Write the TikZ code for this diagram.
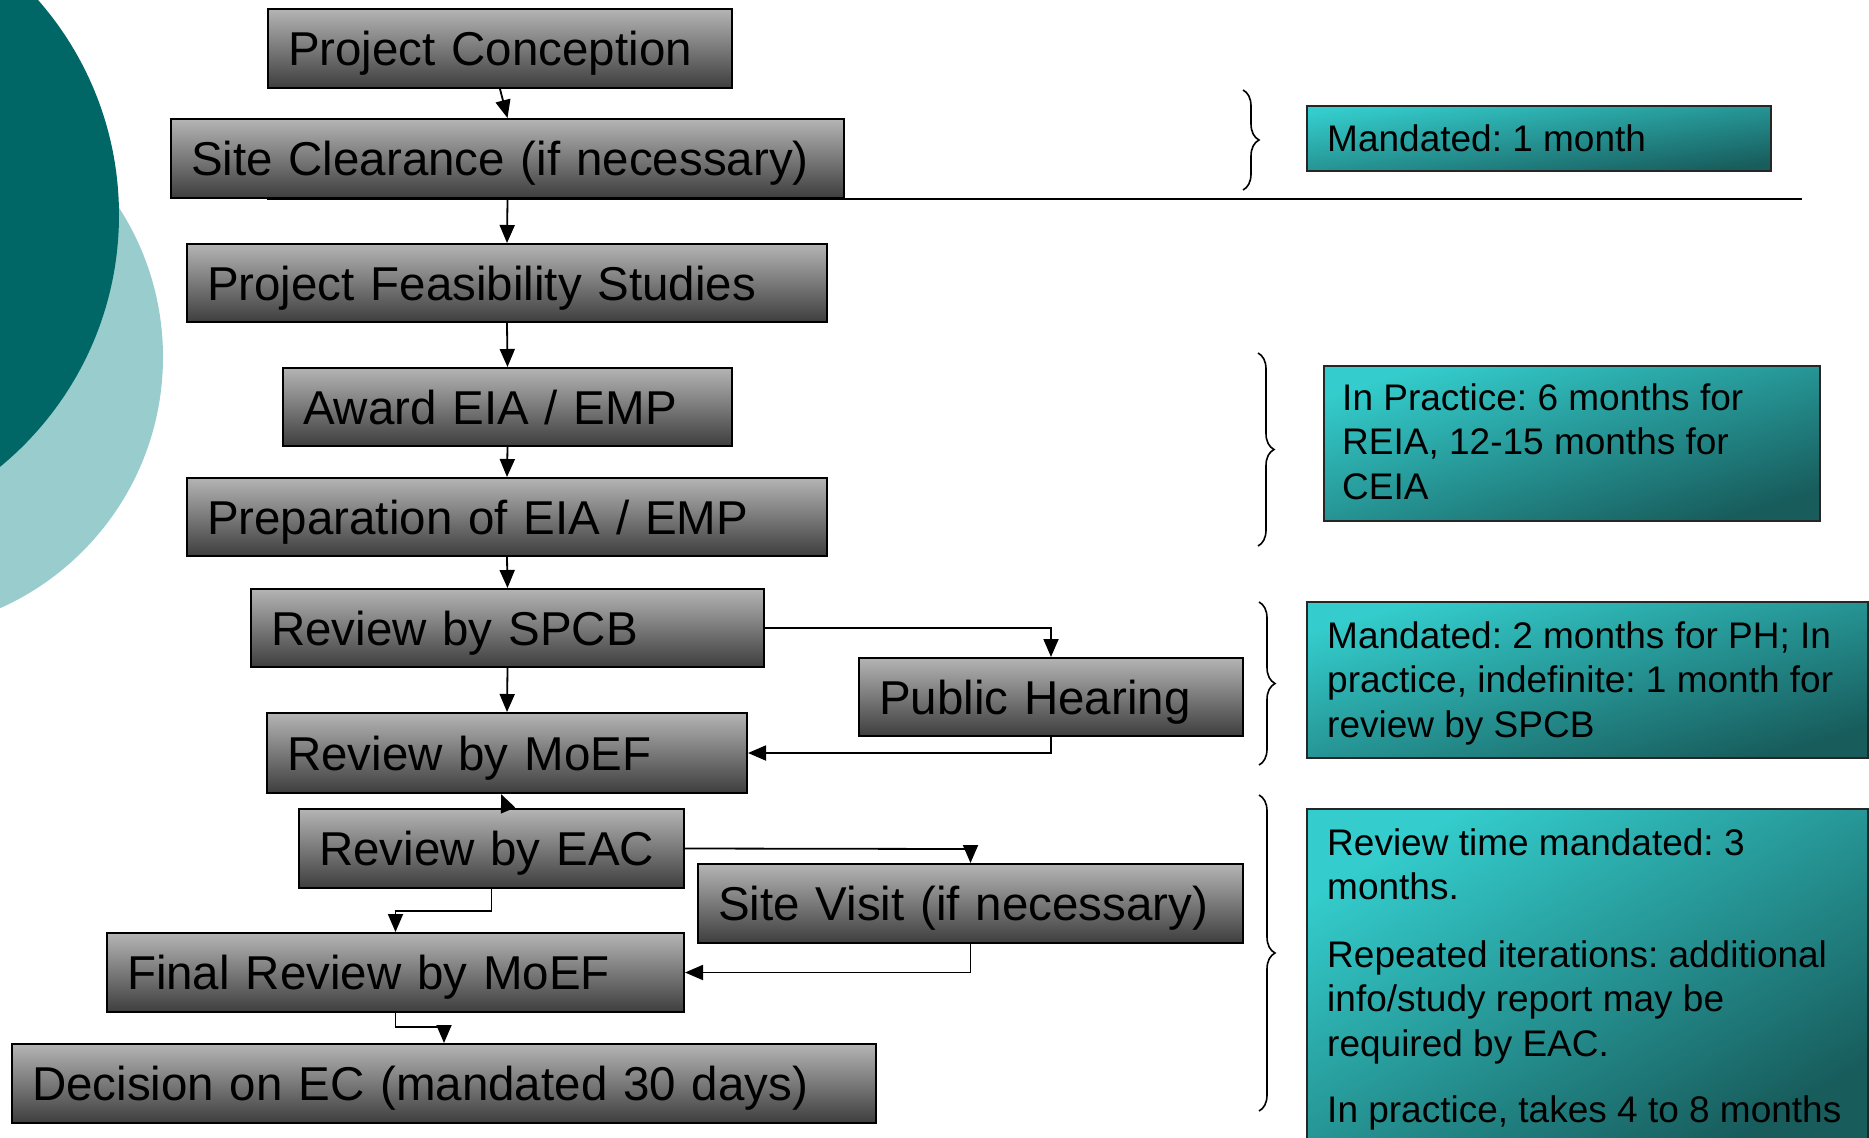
\documentclass[tikz,border=0pt]{standalone}
\usepackage{fontspec}
\setmainfont{Liberation Sans}
\usetikzlibrary{arrows.meta,decorations.pathreplacing,calc}
\definecolor{gtop}{RGB}{180,180,180}
\definecolor{gbot}{RGB}{62,62,62}
\definecolor{tealL}{RGB}{52,204,204}
\definecolor{tealD}{RGB}{24,92,92}
\definecolor{circD}{RGB}{0,102,102}
\definecolor{circL}{RGB}{153,204,204}
\frenchspacing
\begin{document}
\begin{tikzpicture}[x=1pt,y=-1pt,
  greybox/.style={draw=black, line width=2pt, top color=gtop, bottom color=gbot,
    anchor=north west, inner xsep=20pt, inner ysep=0pt, align=left,
    font=\fontsize{47.5}{56}\selectfont, text height=34pt, text depth=0pt},
  tealbox/.style={draw=black!85, line width=2pt, top color=tealL, bottom color=tealD,
    shading angle=#1, anchor=north west, inner sep=0pt},
  tealtext/.style={anchor=north west, inner sep=0pt, align=left,
    font=\fontsize{37}{44.5}\selectfont},
  arr/.style={line width=1.8pt, -{Triangle[length=18pt,width=15pt]}},
  bracedeco/.style={line width=1.6pt, decorate, decoration={brace, amplitude=16pt}}
]
\useasboundingbox (0,0) rectangle (1869,1138);
\clip (0,0) rectangle (1869,1138);
% background circles
\fill[circL] (-112,357) circle[radius=275];
\fill[circD] (-207,215) circle[radius=326];

% separator
\coordinate (sepL) at (267,199);
\coordinate (sepR) at (1802,199);
\draw[line width=2pt] (sepL) -- (sepR);

% grey process boxes
\node[greybox, text width=424pt, minimum height=79pt] (pc) at (267,8) {Project Conception};
\node[greybox, text width=633pt, minimum height=79pt] (sc) at (170,118) {Site Clearance (if necessary)};
\node[greybox, text width=600pt, minimum height=78pt] (pfs) at (186,243) {Project Feasibility Studies};
\node[greybox, text width=409pt, minimum height=78pt] (aw) at (282,367) {Award EIA / EMP};
\node[greybox, text width=600pt, minimum height=78pt] (prep) at (186,477) {Preparation of EIA / EMP};
\node[greybox, text width=473pt, minimum height=78pt] (spcb) at (250,588) {Review by SPCB};
\node[greybox, text width=344pt, minimum height=78pt] (ph) at (858,657) {Public Hearing};
\node[greybox, text width=440pt, minimum height=80pt] (moef) at (266,712) {Review by MoEF};
\node[greybox, text width=345pt, minimum height=79pt] (eac) at (298,808) {Review by EAC};
\node[greybox, text width=505pt, minimum height=79pt] (sv) at (697,863) {Site Visit (if necessary)};
\node[greybox, text width=537pt, minimum height=79pt] (fin) at (106,932) {Final Review by MoEF};
\node[greybox, text width=824pt, minimum height=79pt] (dec) at (11,1043) {Decision on EC (mandated 30 days)};

% connectors
\draw[arr] (pc.south) -- (sc.north);
\draw[arr] (sc.south) -- (pfs.north);
\draw[arr] (pfs.south) -- (aw.north);
\draw[arr] (aw.south) -- (prep.north);
\draw[arr] (prep.south) -- (spcb.north);
\draw[arr] (spcb.south) -- (moef.north);
\draw[arr] (spcb.east) -| (ph.north);
\draw[arr] (ph.south) |- (moef.east);
\draw[arr] ([xshift=15.5pt]eac.north) -- ([xshift=-6pt]moef.south);
\draw[arr] (eac.east) -- ([yshift=14pt]sv.north) -- (sv.north);
\draw[arr] (eac.south) -- ++(0,22) -| (fin.north);
\draw[arr] (sv.south) |- (fin.east);
\draw[arr] (fin.south) -- ++(0,14) -| (dec.north);

% braces
\coordinate (b1t) at (1243,90);   \coordinate (b1b) at (1243,190);
\coordinate (b2t) at (1258,353);  \coordinate (b2b) at (1258,546);
\coordinate (b3t) at (1259,602);  \coordinate (b3b) at (1259,765);
\coordinate (b4t) at (1259,795);  \coordinate (b4b) at (1259,1111);
\draw[bracedeco] (b1t) -- (b1b);
\draw[bracedeco] (b2t) -- (b2b);
\draw[bracedeco] (b3t) -- (b3b);
\draw[bracedeco] (b4t) -- (b4b);

% teal note boxes
\node[tealbox=8, minimum width=464pt, minimum height=65pt] (t1) at (1306,105) {};
\node[tealtext, anchor=west, text height=26.5pt, text depth=0pt] (t1x) at ([xshift=21pt]t1.west) {Mandated: 1 month};

\node[tealbox=17, minimum width=496pt, minimum height=155pt] (t2) at (1323,365) {};
\node[tealtext] (t2x) at ([xshift=19pt,yshift=-18pt]t2.north west)
  {In Practice: 6 months for\\REIA, 12-15 months for\\CEIA};

\node[tealbox=16, minimum width=561pt, minimum height=156pt] (t3) at (1306,601) {};
\node[tealtext] (t3x) at ([xshift=21pt,yshift=-20pt]t3.north west)
  {Mandated: 2 months for PH; In\\practice, indefinite: 1 month for\\review by SPCB};

\node[tealbox=30, minimum width=561pt, minimum height=345pt] (t4) at (1306,808) {};
\node[tealtext] (t4x) at ([xshift=21pt,yshift=-20pt]t4.north west)
  {Review time mandated: 3\\months.\\[23pt]Repeated iterations: additional\\info/study report may be\\required by EAC.\\[22pt]In practice, takes 4 to 8 months};
\end{tikzpicture}
\end{document}
